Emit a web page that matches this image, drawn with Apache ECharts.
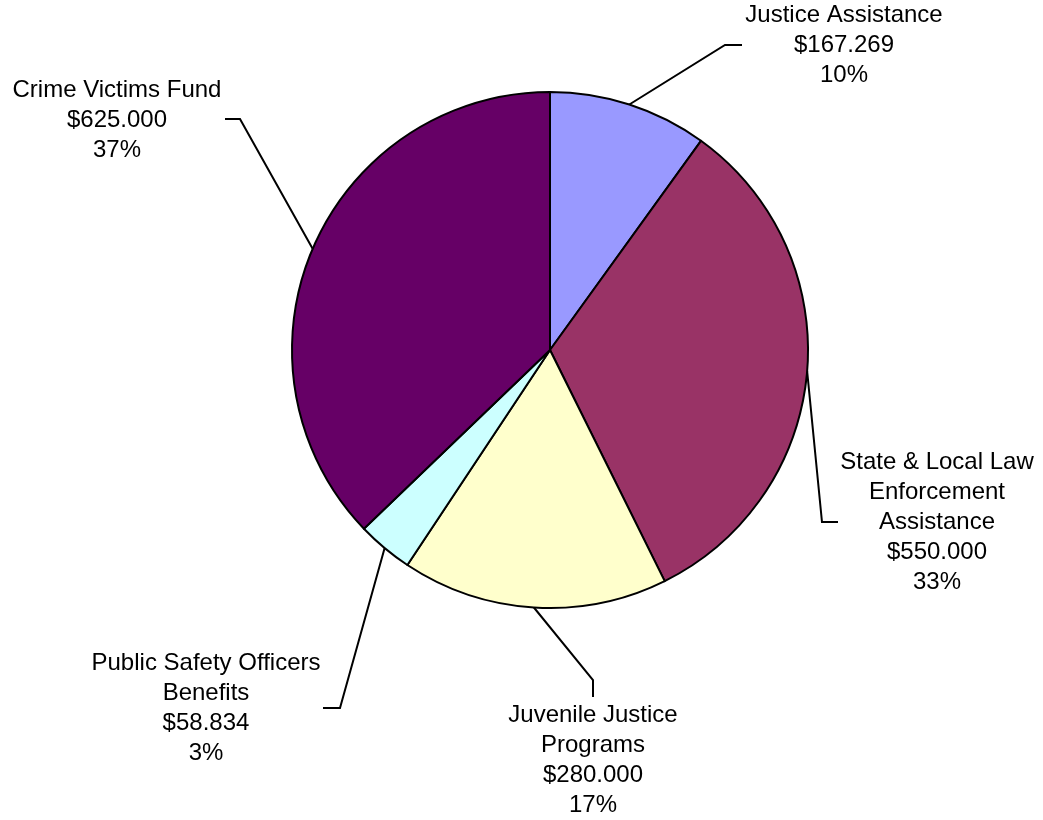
<!DOCTYPE html>
<html>
<head>
<meta charset="utf-8">
<script src="https://cdn.jsdelivr.net/npm/echarts@6/dist/echarts.min.js"></script>
<style>
html,body{margin:0;padding:0;background:#fff;}
#chart{width:1043px;height:820px;}
</style>
</head>
<body>
<div id="chart"></div>
<script>
// Data
var categories = [
  'Justice Assistance',
  'State & Local Law\nEnforcement\nAssistance',
  'Juvenile Justice\nPrograms',
  'Public Safety Officers\nBenefits',
  'Crime Victims Fund'
];
var values = [167.269, 550.000, 280.000, 58.834, 625.000];
var colors = ['#9999FF', '#993366', '#FFFFCC', '#CCFFFF', '#660066'];

// Label placement (layout only)
var labelLayouts = [
  { x: 844, y: 45,  bend: [725, 45],  end: [742, 45] },
  { x: 937, y: 522, bend: [822, 522], end: [838, 522] },
  { x: 593, y: 760, bend: [593, 680], end: [593, 697] },
  { x: 206, y: 708, bend: [340, 708], end: [323, 708] },
  { x: 117, y: 120, bend: [240, 119], end: [225, 119] }
];

var total = values.reduce(function (a, b) { return a + b; }, 0);

var chart = echarts.init(document.getElementById('chart'), null, { renderer: 'canvas' });
chart.setOption({
  animation: false,
  backgroundColor: '#ffffff',
  series: [{
    type: 'pie',
    center: [550, 350],
    radius: 258,
    startAngle: 90,
    clockwise: true,
    avoidLabelOverlap: false,
    data: categories.map(function (c, i) {
      return { name: c, value: values[i], itemStyle: { color: colors[i] } };
    }),
    itemStyle: { borderColor: '#000', borderWidth: 2 },
    label: {
      show: true,
      position: 'outside',
      color: '#000',
      fontFamily: '"Liberation Sans", Arial, sans-serif',
      fontSize: 24,
      lineHeight: 30,
      align: 'center',
      formatter: function (p) {
        return p.name + '\n$' + p.value.toFixed(3) + '\n' + Math.round(p.value / total * 100) + '%';
      }
    },
    labelLine: {
      show: true,
      smooth: false,
      lineStyle: { color: '#000', width: 2 }
    },
    labelLayout: function (params) {
      var L = labelLayouts[params.dataIndex];
      var start = params.labelLinePoints ? params.labelLinePoints[0] : L.bend;
      return {
        x: L.x,
        y: L.y,
        align: 'center',
        verticalAlign: 'middle',
        labelLinePoints: [start, L.bend, L.end]
      };
    },
    emphasis: { disabled: true }
  }]
});
</script>
</body>
</html>
